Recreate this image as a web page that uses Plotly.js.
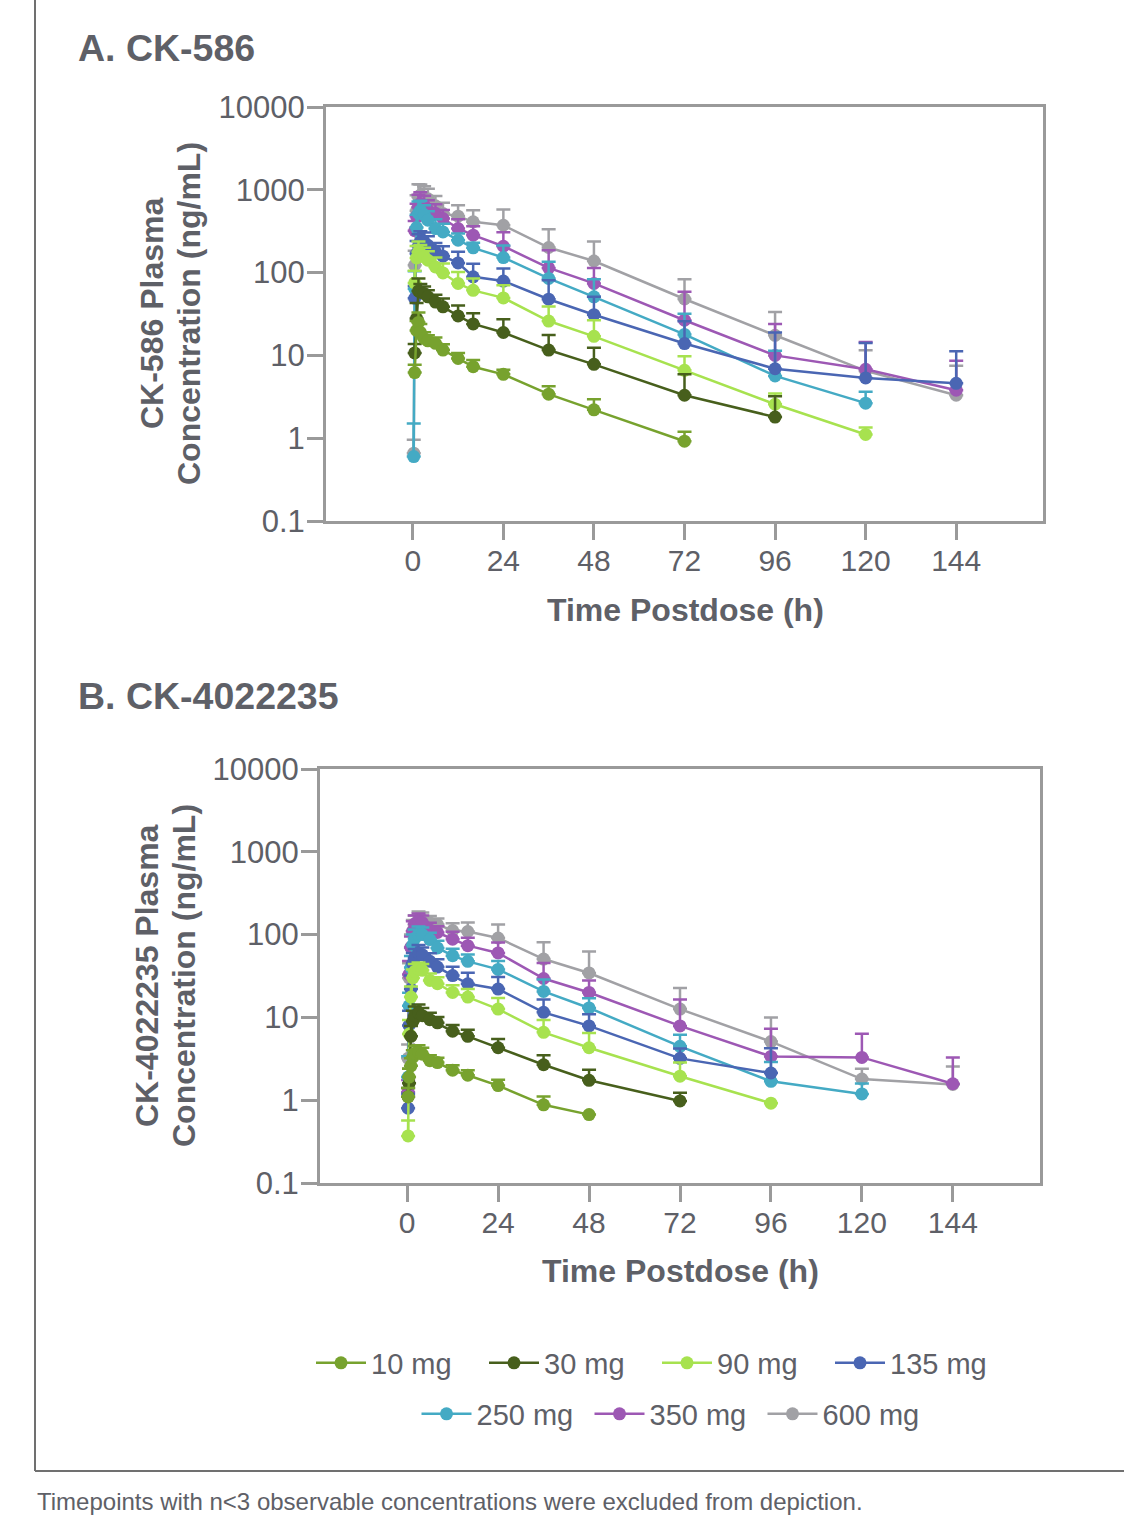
<!DOCTYPE html>
<html><head><meta charset="utf-8">
<script src="https://cdn.plot.ly/plotly-3.0.1.min.js"></script>
<style>html,body{margin:0;padding:0;background:#fff}#chart{width:1124px;height:1517px}</style>
</head><body><div id="chart"></div>
<script>
// ---- data ----
const TIMES_H = [0.25,0.5,1,1.5,2,3,4,6,8,12,16,24,36,48,72,96,120,144];
const DOSES = ['10 mg','30 mg','90 mg','135 mg','250 mg','350 mg','600 mg'];
const X_TICKS = [0,24,48,72,96,120,144];
const Y_TICKS = [0.1,1,10,100,1000,10000];
const Y_TICK_LABELS = ['0.1','1','10','100','1000','10000'];

// Panel A: CK-586 mean concentrations (ng/mL) and upper SD
const A_10  = [null,6.2,20,25,19,16,15,14,11.6,9.2,7.3,5.9,3.4,2.2,0.92,null,null,null];
const A_10_SD = [null,1.5,6,8,5,3,2.5,2.5,2,1.5,1.5,0.8,0.85,0.75,0.28,null,null,null];
const A_30  = [null,10.7,28,60,58,56,51,44,38.6,30,24,18.9,11.6,7.8,3.3,1.8,null,null];
const A_30_SD = [null,3,15,25,15,12,10,10,10,10,8.4,8.5,6,4.6,2.6,1.4,null,null];
const A_90  = [null,75,150,178,165,155,141,117,99,74,61,49.5,26,17,6.6,2.57,1.11,null];
const A_90_SD = [null,30,60,60,50,45,40,35,30,28,24,21,13,9.6,3.2,0.9,0.24,null];
const A_135 = [null,49,170,210,235,235,214,178,158,131,89,79,47.7,31,13.9,6.9,5.35,4.6];
const A_135_SD = [null,20,70,80,80,70,60,50,50,47,39,33,33,20,12,12,8.8,6.6];
const A_250 = [0.6,64,350,520,560,500,430,340,310,246,199,152,85,51,17.9,5.65,2.65,null];
const A_250_SD = [0.9,40,150,200,180,150,120,100,80,50,30,60,50,32,14,5.7,1.0,null];
const A_350 = [null,320,480,620,683,650,570,520,450,341,283,208,114,74,26.6,10,6.8,3.8];
const A_350_SD = [null,100,200,250,250,200,180,150,120,100,80,100,72,40,32,14,7.7,4.8];
const A_600 = [0.66,123,560,820,860,820,780,640,517,480,410,373,201,138,48,17.5,6.5,3.3];
const A_600_SD = [0.3,60,300,350,300,280,250,200,180,170,157,205,133,99,35,16,5,4.2];

// Panel B: CK-4022235
const B_10  = [1.1,1.9,2.6,3.3,3.7,3.8,3.6,3.0,2.85,2.3,2.0,1.5,0.88,0.67,null,null,null,null];
const B_10_SD = [0.3,0.5,0.6,0.7,0.8,0.8,0.7,0.5,0.4,0.35,0.3,0.27,0.23,null,null,null,null,null];
const B_30  = [1.1,1.6,5.9,9,10.5,11.3,10.5,9.4,8.6,6.8,5.9,4.3,2.68,1.74,0.98,null,null,null];
const B_30_SD = [0.3,0.8,2,3,3,3,2.5,2,1.5,1.3,1.2,1.2,0.8,0.6,0.25,null,null,null];
const B_90  = [0.37,6.3,17.6,30,36,38,37,28,25.5,20,17.6,12.6,6.6,4.3,1.95,0.92,null,null];
const B_90_SD = [0.2,3,6,8,8,8,7,6,5,4.5,4.5,4.5,2.7,2.2,0.9,null,null,null];
const B_135 = [0.8,8,22,45,52,60,57,47.5,40.5,32,25.5,22,11.5,7.9,3.2,2.13,null,null];
const B_135_SD = [0.4,4,10,15,15,15,13,12,10,9,9,8.7,5,3,1,2.1,null,null];
const B_250 = [1.9,13.8,40,75,90,100,100,87,69,55.6,47.5,38,20.6,13,4.47,1.69,1.19,null];
const B_250_SD = [1.5,6,15,25,25,25,22,18,15,12,10,10,8,4,1.7,1.2,0.4,null];
const B_350 = [1.25,33,70,110,135,145,140,114,106,88,73.5,60,29.5,20,7.9,3.38,3.29,1.58];
const B_350_SD = [0.5,15,25,35,35,35,30,25,20,20,18,20,16,8,8.5,3.9,3.06,1.7];
const B_600 = [3.2,30,70,110,130,150,150,138,132,112,109,91,50.7,34.4,12.6,5.1,1.8,1.55];
const B_600_SD = [1.5,15,30,40,40,40,35,30,25,25,31,41,30,28,10,4.9,0.6,1.0];

// ---- styles ----
const COLORS = ['#77a22e','#475f1c','#a7e24f','#4a66b3','#44aac4','#9d58b4','#a1a1a5'];
const TEXT = '#5e6067';
const AXIS = '#9a9a9a';
const FONT = 'Liberation Sans, Arial, sans-serif';
const W = 1124, H = 1517;
const px = v => v / W;
const py = v => 1 - v / H;

const A_SERIES = [[A_10,A_10_SD],[A_30,A_30_SD],[A_90,A_90_SD],[A_135,A_135_SD],[A_250,A_250_SD],[A_350,A_350_SD],[A_600,A_600_SD]];
const B_SERIES = [[B_10,B_10_SD],[B_30,B_30_SD],[B_90,B_90_SD],[B_135,B_135_SD],[B_250,B_250_SD],[B_350,B_350_SD],[B_600,B_600_SD]];

const traces = [];
function addPanel(series, xa, ya, showLeg) {
  for (let i = series.length - 1; i >= 0; i--) {
    const [vals, sd] = series[i];
    traces.push({
      type: 'scatter', mode: 'lines+markers',
      x: TIMES_H, y: vals, xaxis: xa, yaxis: ya,
      name: DOSES[i], showlegend: showLeg,
      legend: i < 4 ? 'legend' : 'legend2',
      line: {color: COLORS[i], width: 2.5},
      marker: {color: COLORS[i], size: 13},
      error_y: {type: 'data', symmetric: false, array: sd, arrayminus: sd.map(() => 0),
                color: COLORS[i], thickness: 2.5, width: 7},
      cliponaxis: false
    });
  }
}
addPanel(A_SERIES, 'x', 'y', true);
addPanel(B_SERIES, 'x2', 'y2', false);

function xAxis(domain, anchor) {
  return {domain, anchor, range: [-23, 167], tickvals: X_TICKS, ticktext: X_TICKS.map(String),
    showline: true, linecolor: AXIS, linewidth: 3, mirror: true, ticks: 'outside', ticklen: 16,
    tickwidth: 3, tickcolor: AXIS, showgrid: false, zeroline: false, ticklabelstandoff: -5,
    tickfont: {family: FONT, size: 30, color: TEXT}};
}
function yAxis(domain, anchor) {
  return {domain, anchor, type: 'log', range: [-1, 4], tickvals: Y_TICKS, ticktext: Y_TICK_LABELS,
    showline: true, linecolor: AXIS, linewidth: 3, mirror: true, ticks: 'outside', ticklen: 16,
    tickwidth: 3, tickcolor: AXIS, showgrid: false, zeroline: false, ticklabelstandoff: -4,
    tickfont: {family: FONT, size: 31, color: TEXT}};
}

function ann(text, x, y, opts) {
  return Object.assign({text, x: px(x), y: py(y), xref: 'paper', yref: 'paper', showarrow: false,
    xanchor: 'center', yanchor: 'middle', font: {family: FONT, size: 32, color: TEXT}}, opts || {});
}

const annotations = [
  ann('<b>A. CK-586</b>', 76, 48, {xanchor: 'left', font: {family: FONT, size: 37.5, color: TEXT}}),
  ann('<b>B. CK-4022235</b>', 76, 696, {xanchor: 'left', font: {family: FONT, size: 37.5, color: TEXT}}),
  ann('<b>Time Postdose (h)</b>', 685, 610),
  ann('<b>Time Postdose (h)</b>', 680, 1271),
  ann('<b>CK-586 Plasma</b>', 152, 314, {textangle: -90}),
  ann('<b>Concentration (ng/mL)</b>', 189, 314, {textangle: -90}),
  ann('<b>CK-4022235 Plasma</b>', 147, 976, {textangle: -90}),
  ann('<b>Concentration (ng/mL)</b>', 184, 976, {textangle: -90}),
  ann('Timepoints with n<3 observable concentrations were excluded from depiction.', 35, 1501,
      {xanchor: 'left', font: {family: FONT, size: 24, color: TEXT}})
];

const shapes = [
  {type: 'line', xref: 'paper', yref: 'paper', x0: px(35), x1: px(35), y0: py(0), y1: py(1471),
   line: {color: '#707070', width: 2}},
  {type: 'line', xref: 'paper', yref: 'paper', x0: px(35), x1: px(1124), y0: py(1471), y1: py(1471),
   line: {color: '#707070', width: 2}}
];

const legendBase = {orientation: 'h', xanchor: 'center', yanchor: 'middle', traceorder: 'reversed',
  font: {family: FONT, size: 29, color: TEXT}, bgcolor: 'rgba(0,0,0,0)', itemwidth: 50,
  entrywidth: 108};

const layout = {
  width: W, height: H, margin: {l: 0, r: 0, t: 0, b: 0},
  paper_bgcolor: '#fff', plot_bgcolor: '#fff',
  xaxis: xAxis([px(326), px(1043)], 'y'),
  yaxis: yAxis([py(521), py(107)], 'x'),
  xaxis2: xAxis([px(320), px(1040)], 'y2'),
  yaxis2: yAxis([py(1183), py(769)], 'x2'),
  legend: Object.assign({}, legendBase, {x: px(657), y: py(1363)}),
  legend2: Object.assign({}, legendBase, {x: px(676), y: py(1414)}),
  annotations, shapes
};

Plotly.newPlot('chart', traces, layout, {staticPlot: true});
</script></body></html>
